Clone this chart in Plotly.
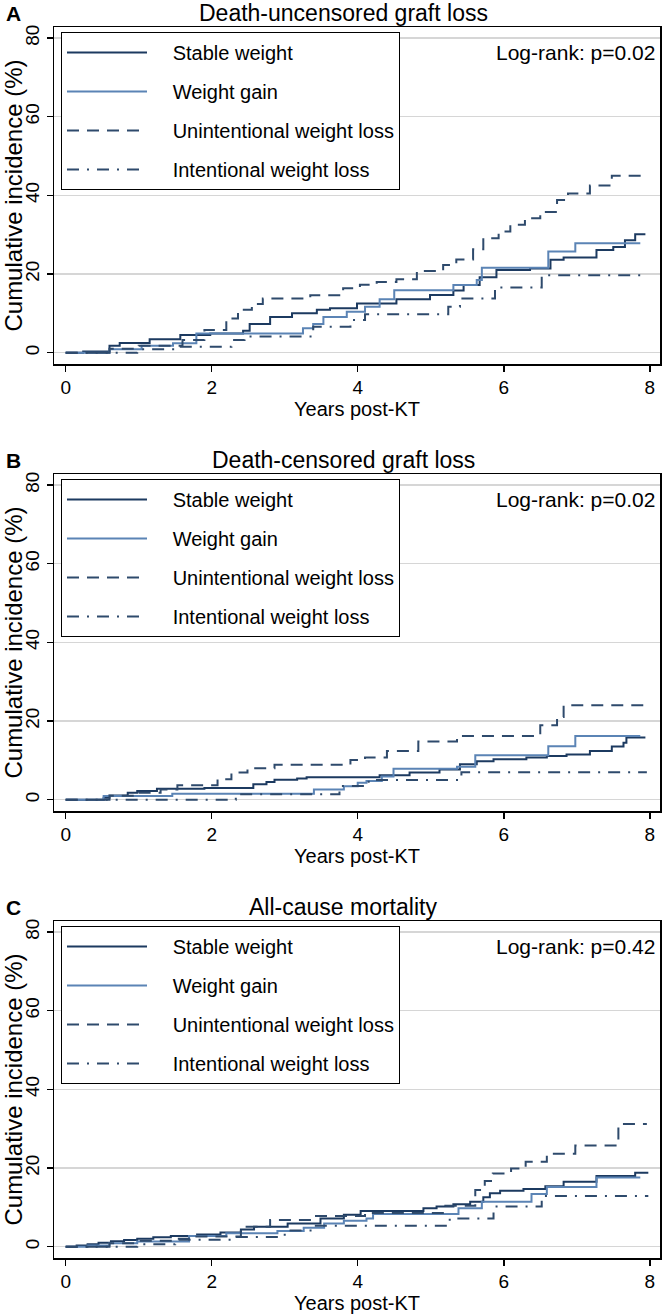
import plotly.graph_objects as go

# ---------------- data ----------------
panel_titles = ["Death-uncensored graft loss", "Death-censored graft loss", "All-cause mortality"]
panel_letters = ["A", "B", "C"]
logrank_labels = ["Log-rank: p=0.02", "Log-rank: p=0.02", "Log-rank: p=0.42"]
series_names = ["Stable weight", "Weight gain", "Unintentional weight loss", "Intentional weight loss"]
x_ticks = [0, 2, 4, 6, 8]
y_ticks = [0, 20, 40, 60, 80]

# Panel A: death-uncensored graft loss
A_stable_t = [0, 0.24, 0.6, 0.74, 1.15, 1.57, 1.98, 2.43, 2.52, 2.8, 3.1, 3.44, 3.62, 3.99, 4.53, 4.99, 5.31, 5.45, 5.67, 5.9, 6.36, 6.64, 6.82, 7.27, 7.5, 7.66, 7.8, 7.94]
A_stable_y = [0, 0.3, 1.8, 2.5, 3.4, 4.5, 4.9, 5.6, 7.3, 9.1, 10.0, 10.9, 11.3, 12.5, 13.6, 14.7, 15.8, 17.2, 19.2, 21.0, 21.4, 23.6, 24.2, 26.1, 26.9, 28.6, 30.1, 30.1]
A_gain_t = [0, 0.6, 1.04, 1.47, 1.79, 3.25, 3.39, 3.53, 3.85, 4.1, 4.3, 4.5, 5.31, 5.63, 5.7, 6.61, 6.98, 7.87]
A_gain_y = [0, 0.9, 1.8, 2.4, 4.9, 6.2, 7.3, 9.1, 10.4, 11.7, 13.6, 15.9, 17.2, 18.5, 21.6, 25.7, 27.8, 27.8]
A_unint_t = [0, 0.6, 1.0, 1.6, 1.9, 2.2, 2.36, 2.55, 2.7, 3.35, 3.8, 4.03, 4.26, 4.53, 4.81, 5.17, 5.35, 5.58, 5.72, 5.93, 6.09, 6.29, 6.5, 6.73, 6.88, 7.18, 7.48, 7.96]
A_unint_y = [0, 1.0, 1.8, 3.2, 5.8, 8.7, 10.9, 12.4, 13.8, 14.6, 16.4, 17.3, 18.0, 18.7, 20.8, 22.3, 23.7, 26.3, 29.1, 30.8, 32.5, 34.2, 35.8, 38.8, 40.5, 42.5, 45.0, 45.0]
A_int_t = [0, 0.98, 1.55, 2.27, 2.45, 3.39, 3.9, 4.1, 5.24, 5.4, 5.88, 6.52, 7.94]
A_int_y = [0, 0.9, 1.5, 3.2, 4.1, 6.6, 8.3, 9.8, 11.7, 13.8, 16.6, 19.7, 19.7]

# Panel B: death-censored graft loss
B_stable_t = [0, 0.52, 0.6, 0.85, 0.98, 1.25, 1.9, 2.57, 2.75, 2.86, 3.17, 3.3, 4.3, 4.71, 5.12, 5.4, 5.63, 5.86, 6.31, 6.59, 6.86, 7.18, 7.48, 7.64, 7.68, 7.94]
B_stable_y = [0, 0.5, 1.1, 1.8, 2.2, 2.8, 3.0, 3.9, 4.5, 5.1, 5.4, 5.7, 6.2, 6.9, 7.7, 9.0, 9.8, 10.3, 10.7, 11.1, 11.5, 12.4, 13.5, 14.5, 15.8, 15.8]
B_gain_t = [0, 0.52, 1.46, 3.4, 3.81, 4.0, 4.12, 4.33, 4.49, 5.36, 5.61, 6.61, 6.98, 7.87]
B_gain_y = [0, 0.95, 1.5, 2.6, 3.4, 4.3, 4.75, 5.9, 7.9, 8.4, 11.3, 13.6, 16.2, 16.2]
B_unint_t = [0, 0.6, 1.0, 1.3, 1.53, 2.08, 2.27, 2.49, 2.86, 3.9, 4.1, 4.4, 4.83, 5.36, 6.5, 6.73, 6.82, 7.96]
B_unint_y = [0, 1.0, 1.8, 2.6, 3.7, 5.2, 6.9, 8.0, 8.9, 10.1, 10.7, 12.4, 14.8, 16.2, 18.9, 21.0, 24.0, 24.0]
B_int_t = [0, 2.33, 3.75, 4.15, 5.42, 7.96]
B_int_y = [0, 1.4, 3.5, 5.0, 7.0, 7.0]

# Panel C: all-cause mortality
C_stable_t = [0, 0.15, 0.3, 0.45, 0.62, 0.8, 0.98, 1.2, 1.44, 1.8, 2.12, 2.4, 2.58, 3.04, 3.49, 3.81, 4.04, 4.9, 5.08, 5.31, 5.54, 5.72, 5.81, 5.95, 6.27, 6.57, 6.82, 7.27, 7.8, 7.98]
C_stable_y = [0, 0.3, 0.6, 1.0, 1.4, 1.7, 2.0, 2.4, 2.7, 3.1, 3.6, 4.4, 5.1, 5.9, 7.2, 8.1, 9.1, 9.8, 10.2, 10.8, 11.4, 12.6, 13.6, 14.2, 14.7, 15.4, 16.5, 18.0, 18.8, 18.8]
C_gain_t = [0, 0.3, 0.6, 0.98, 1.69, 2.2, 2.9, 3.26, 3.54, 3.81, 4.12, 4.21, 5.38, 5.7, 6.38, 6.59, 7.27, 7.87]
C_gain_y = [0, 0.3, 0.9, 1.3, 2.7, 3.4, 4.0, 4.8, 5.9, 6.6, 7.2, 8.3, 9.8, 11.4, 13.4, 15.2, 17.6, 17.6]
C_unint_t = [0, 0.6, 1.0, 1.5, 1.75, 2.4, 2.8, 3.4, 4.1, 5.2, 5.61, 5.74, 5.85, 6.1, 6.3, 6.59, 6.98, 7.57, 7.96]
C_unint_y = [0, 0.9, 1.5, 2.0, 2.6, 5.1, 6.8, 7.8, 8.6, 10.4, 14.4, 16.7, 18.6, 19.9, 21.6, 23.6, 25.7, 31.2, 31.2]
C_int_t = [0, 0.98, 1.5, 2.3, 3.0, 3.4, 5.26, 5.86, 6.52, 7.98]
C_int_y = [0, 0.6, 1.8, 2.5, 4.1, 5.3, 7.2, 10.2, 12.9, 12.9]

panels = [
    [(A_stable_t, A_stable_y), (A_gain_t, A_gain_y), (A_unint_t, A_unint_y), (A_int_t, A_int_y)],
    [(B_stable_t, B_stable_y), (B_gain_t, B_gain_y), (B_unint_t, B_unint_y), (B_int_t, B_int_y)],
    [(C_stable_t, C_stable_y), (C_gain_t, C_gain_y), (C_unint_t, C_unint_y), (C_int_t, C_int_y)],
]

# ---------------- styling ----------------
W, H = 662, 1314
FONT = "Liberation Sans, Arial, Helvetica, sans-serif"
series_style = [
    dict(color="#1c3a60", width=2, dash="solid"),
    dict(color="#5b84b5", width=2, dash="solid"),
    dict(color="#2e4a6c", width=2, dash="12px,8px"),
    dict(color="#2e4a6c", width=2, dash="12px,8px,2px,8px"),
]
LEG_PAD = "\u00a0\u00a0\u00a0\u2009"

def fx(p):
    return p / W

def fy(p):
    return 1 - p / H

panel_offset = 447
plot_top, plot_bottom = 27, 364
plot_left, plot_right = 54, 660

fig = go.Figure()
annotations = []
layout_axes = {}
legends = {}

for i in range(3):
    off = i * panel_offset
    sfx = "" if i == 0 else str(i + 1)
    leg = "legend" if i == 0 else f"legend{i + 1}"
    for j, (t, y) in enumerate(panels[i]):
        fig.add_trace(go.Scatter(
            x=t, y=y, mode="lines", name=LEG_PAD + series_names[j],
            line=dict(shape="hv", **series_style[j]),
            xaxis="x" + sfx, yaxis="y" + sfx,
            legend=leg, legendgroup=f"p{i}s{j}", showlegend=True,
            hoverinfo="skip",
        ))
    ydom = [fy(plot_bottom + off), fy(plot_top + off)]
    layout_axes["xaxis" + sfx] = dict(
        domain=[fx(plot_left), fx(plot_right)], anchor="y" + sfx,
        range=[-0.16, 8.14], tickvals=x_ticks, ticks="outside", ticklen=6,
        tickwidth=1.5, tickcolor="black", showline=True, linecolor="black",
        linewidth=1.5, mirror=True, showgrid=False, zeroline=False,
        tickfont=dict(size=19, color="black", family=FONT),
        title=dict(text="Years post-KT", font=dict(size=20, color="black", family=FONT), standoff=0),
        automargin=False,
    )
    layout_axes["yaxis" + sfx] = dict(
        domain=ydom, anchor="x" + sfx,
        range=[-2.87, 82.8], tickvals=y_ticks, ticks="outside", ticklen=6,
        tickwidth=1.5, tickcolor="black", tickangle=-90,
        showline=True, linecolor="black", linewidth=1.5, mirror=True,
        showgrid=True, gridcolor="#d6d6d6", gridwidth=1.5, zeroline=False,
        tickfont=dict(size=19, color="black", family=FONT),
        title=dict(text="Cumulative incidence (%)", font=dict(size=24, color="black", family=FONT), standoff=0),
        automargin=False,
    )
    legends[leg] = dict(
        x=fx(61), y=fy(32 + off), xanchor="left", yanchor="top",
        bgcolor="white", bordercolor="black", borderwidth=1,
        font=dict(size=20, color="black", family=FONT),
        itemwidth=80, tracegroupgap=10, traceorder="grouped",
        itemclick=False, itemdoubleclick=False,
    )
    annotations.append(dict(
        text=panel_titles[i], x=fx(343), y=fy(13 + off),
        xref="paper", yref="paper", xanchor="center", yanchor="middle",
        showarrow=False, font=dict(size=23, color="black", family=FONT),
    ))
    annotations.append(dict(
        text="<b>" + panel_letters[i] + "</b>", x=fx(4), y=fy(13 + off),
        xref="paper", yref="paper", xanchor="left", yanchor="middle",
        showarrow=False, font=dict(size=21, color="black", family=FONT),
    ))
    annotations.append(dict(
        text=logrank_labels[i], x=fx(657), y=fy(52 + off),
        xref="paper", yref="paper", xanchor="right", yanchor="middle",
        showarrow=False, font=dict(size=21, color="black", family=FONT),
    ))

fig.update_layout(
    width=W, height=H,
    margin=dict(l=0, r=0, t=0, b=0),
    paper_bgcolor="white", plot_bgcolor="white",
    font=dict(family=FONT, color="black"),
    annotations=annotations,
    **layout_axes,
    **legends,
)

fig.write_html(
    "out.html",
    config={"displayModeBar": False, "staticPlot": True},
    post_script="document.body.style.margin='0px';document.body.style.overflow='hidden';",
)
